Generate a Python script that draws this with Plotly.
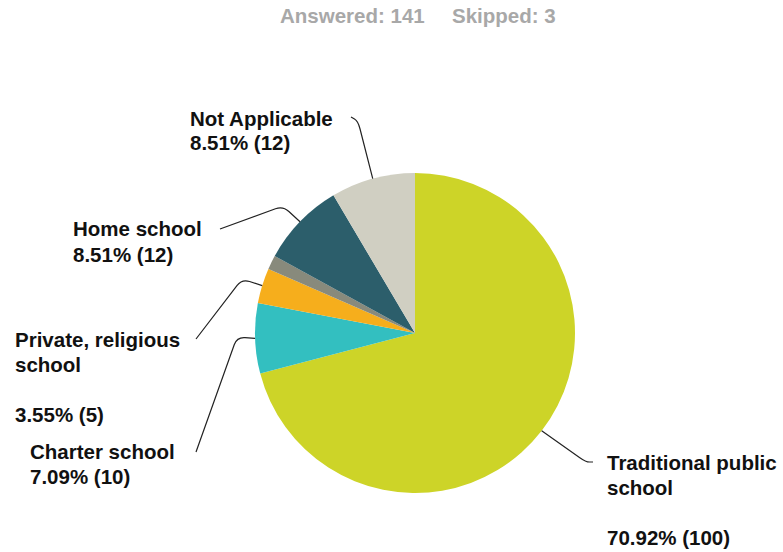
import math
import plotly.graph_objects as go

categories = ["Traditional public school", "Charter school", "Private, religious school",
              "Private, non-religious school", "Home school", "Not Applicable"]
counts = [100, 10, 5, 2, 12, 12]
colors = ["#CDD428", "#33BFC0", "#F6AE1C", "#888A7C", "#2C5E6B", "#D0CFC2"]
answered = 141
skipped = 3

W, H = 783, 552
CX, CY, R = 415, 333, 160
LINE_H = 25

total = sum(counts)
pcts = [c / total * 100 for c in counts]

fig = go.Figure(go.Pie(
    labels=categories, values=counts, sort=False, direction="clockwise", rotation=0,
    marker=dict(colors=colors, line=dict(width=0)), textinfo="none", hoverinfo="label+percent",
    domain=dict(x=[(CX - R) / W, (CX + R) / W], y=[(H - CY - R) / H, (H - CY + R) / H]),
    showlegend=False,
))

def px(x, y):
    return x / W, 1 - y / H

# label layout: (index, lines, left x, top-line center y, label-end point, elbow)
labels = [
    (5, ["Not Applicable", "{p} ({c})"], 188, 118, (351, 117), (358, 121)),
    (4, ["Home school", "{p} ({c})"], 71, 229, (220, 229), (283, 206)),
    (2, ["Private, religious", "school", "", "{p} ({c})"], 13, 339, (196, 339), (242, 279)),
    (1, ["Charter school", "{p} ({c})"], 28, 451, (196, 452), (237, 337)),
    (0, ["Traditional public", "school", "", "{p} ({c})"], 605, 462, (593, 462), (586, 462)),
]

cum = 0
mids = []
for c in counts:
    mids.append((cum + c / 2) / total)
    cum += c

def toward(p, q, d):
    dx, dy = q[0] - p[0], q[1] - p[1]
    L = math.hypot(dx, dy) or 1
    d = min(d, L / 2)
    return p[0] + dx / L * d, p[1] + dy / L * d

shapes = []
annotations = []
for idx, lines, lx, ly, lend, elbow in labels:
    ang = 2 * math.pi * mids[idx]
    ax = CX + R * math.sin(ang)
    ay = CY - R * math.cos(ang)
    ex, ey = elbow
    sx, sy = lend
    b = toward((ex, ey), (sx, sy), 8)
    c2 = toward((ex, ey), (ax, ay), 8)
    pts = [px(sx, sy), px(*b), px(ex, ey), px(*c2), px(ax, ay)]
    path = "M {},{} L {},{} Q {},{} {},{} L {},{}".format(*[v for p in pts for v in p])
    shapes.append(dict(type="path", path=path, xref="paper", yref="paper",
                       line=dict(color="#222222", width=1.2)))
    for k, ln in enumerate(lines):
        if not ln:
            continue
        text = ln.format(p=f"{pcts[idx]:.2f}%", c=counts[idx])
        x0, y0 = px(lx, ly + k * LINE_H)
        annotations.append(dict(text="<b>" + text + "</b>", x=x0, y=y0, xref="paper", yref="paper",
                                xanchor="left", yanchor="middle", align="left", showarrow=False,
                                font=dict(family="Liberation Sans, Arial", size=20.5, color="#111111")))

tx, ty = px(352, 15)
annotations.append(dict(text=f"<b>Answered: {answered}</b>", x=tx, y=ty, xref="paper", yref="paper",
                        xanchor="center", yanchor="middle", showarrow=False,
                        font=dict(family="Liberation Sans, Arial", size=20.5, color="#A8A8A8")))
tx, ty = px(504, 15)
annotations.append(dict(text=f"<b>Skipped: {skipped}</b>", x=tx, y=ty, xref="paper", yref="paper",
                        xanchor="center", yanchor="middle", showarrow=False,
                        font=dict(family="Liberation Sans, Arial", size=20.5, color="#A8A8A8")))

fig.update_layout(width=W, height=H, margin=dict(l=0, r=0, t=0, b=0),
                  paper_bgcolor="white", plot_bgcolor="white",
                  shapes=shapes, annotations=annotations)

fig.write_html("out.html")
